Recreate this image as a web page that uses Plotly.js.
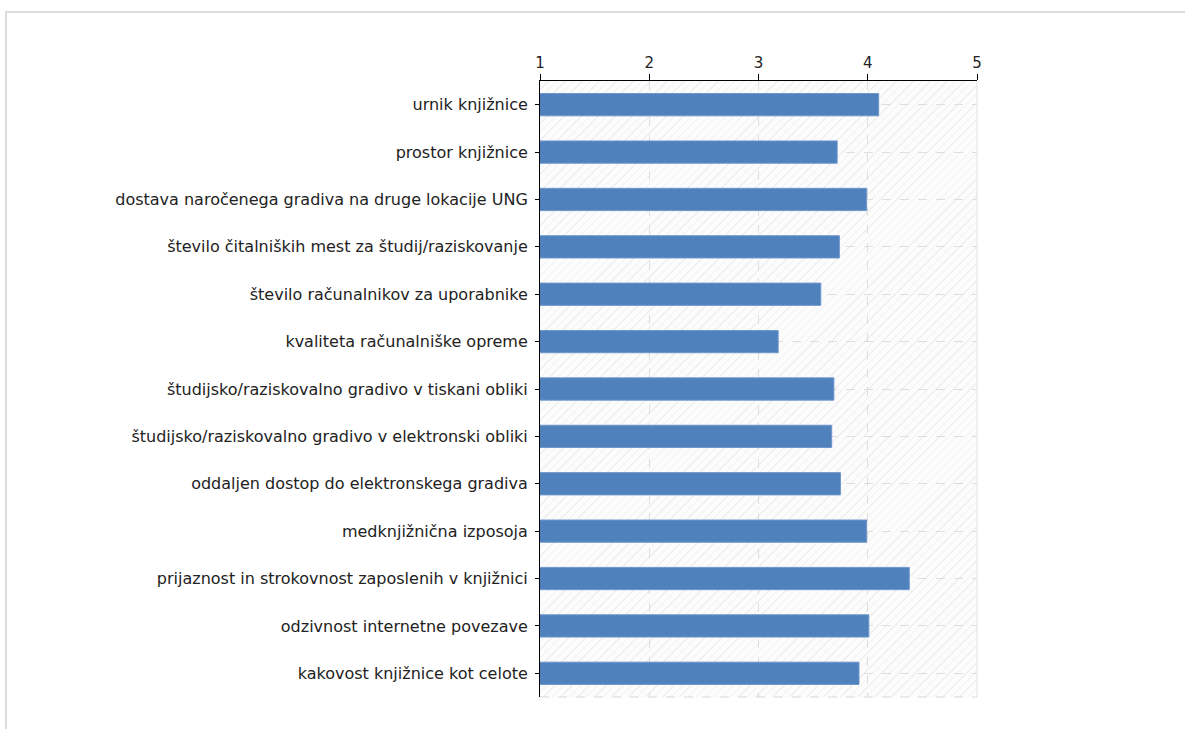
<!DOCTYPE html>
<html>
<head>
<meta charset="utf-8">
<script src="https://cdn.plot.ly/plotly-3.0.1.min.js"></script>
<style>
  html, body { margin: 0; padding: 0; background: #fff; overflow: hidden; }
  #frame { position: absolute; left: 5px; top: 11px; width: 1300px; height: 900px; border: 2px solid #dcdcdc; box-sizing: border-box; }
  #hatch { position: absolute; background-color: #fcfcfc;
    background-image: repeating-linear-gradient(-45deg, #efefef 0px, #efefef 1px, transparent 1px, transparent 6px); }
  #chart { position: absolute; left: 0; top: 0; width: 1185px; height: 729px; }
</style>
</head>
<body>
<div id="frame"></div>
<div id="hatch"></div>
<div id="chart"></div>
<script>
const categories = [
  "urnik knjižnice",
  "prostor knjižnice",
  "dostava naročenega gradiva na druge lokacije UNG",
  "število čitalniških mest za študij/raziskovanje",
  "število računalnikov za uporabnike",
  "kvaliteta računalniške opreme",
  "študijsko/raziskovalno gradivo v tiskani obliki",
  "študijsko/raziskovalno gradivo v elektronski obliki",
  "oddaljen dostop do elektronskega gradiva",
  "medknjižnična izposoja",
  "prijaznost in strokovnost zaposlenih v knjižnici",
  "odzivnost internetne povezave",
  "kakovost knjižnice kot celote"
];
const scores = [4.10, 3.72, 3.99, 3.74, 3.57, 3.18, 3.69, 3.67, 3.75, 3.99, 4.38, 4.01, 3.92];
const tickValues = [1, 2, 3, 4, 5];

const trace = {
  type: "bar",
  orientation: "h",
  y: categories,
  x: scores,
  width: 0.47,
  marker: { color: "#4f81bd", line: { color: "#6f97cc", width: 1 } },
  hoverinfo: "x+y"
};

const layout = {
  width: 1185,
  height: 729,
  margin: { l: 540, r: 208, t: 81, b: 32 },
  paper_bgcolor: "rgba(0,0,0,0)",
  plot_bgcolor: "rgba(0,0,0,0)",
  font: { family: "DejaVu Sans, Verdana, sans-serif", size: 16, color: "#222" },
  showlegend: false,
  xaxis: {
    side: "top",
    range: [1, 5],
    tickvals: tickValues,
    ticktext: tickValues.map(String),
    showline: true,
    linecolor: "#000",
    linewidth: 1,
    ticks: "outside",
    ticklen: 6,
    tickcolor: "#000",
    showgrid: true,
    gridcolor: "#dedede",
    griddash: "dash",
    zeroline: false,
    fixedrange: true,
    tickfont: { size: 15, color: "#222" }
  },
  yaxis: {
    autorange: "reversed",
    showline: true,
    linecolor: "#000",
    linewidth: 1,
    ticks: "outside",
    ticklen: 4,
    tickcolor: "#000",
    ticklabelstandoff: 4,
    showgrid: true,
    gridcolor: "#dedede",
    griddash: "dash",
    fixedrange: true,
    tickfont: { size: 16, color: "#222" }
  },
  shapes: [
    { type: "line", xref: "paper", yref: "paper", x0: 1, x1: 1, y0: 0, y1: 1, line: { color: "#e2e2e2", width: 1 } },
    { type: "line", xref: "paper", yref: "paper", x0: 0, x1: 1, y0: 0, y1: 0, line: { color: "#d8d8d8", width: 1, dash: "dash" } }
  ]
};

Plotly.newPlot("chart", [trace], layout, { displayModeBar: false, staticPlot: true }).then(function (gd) {
  const s = gd._fullLayout._size;
  const h = document.getElementById("hatch");
  h.style.left = s.l + "px";
  h.style.top = s.t + "px";
  h.style.width = s.w + "px";
  h.style.height = s.h + "px";
});
</script>
</body>
</html>
